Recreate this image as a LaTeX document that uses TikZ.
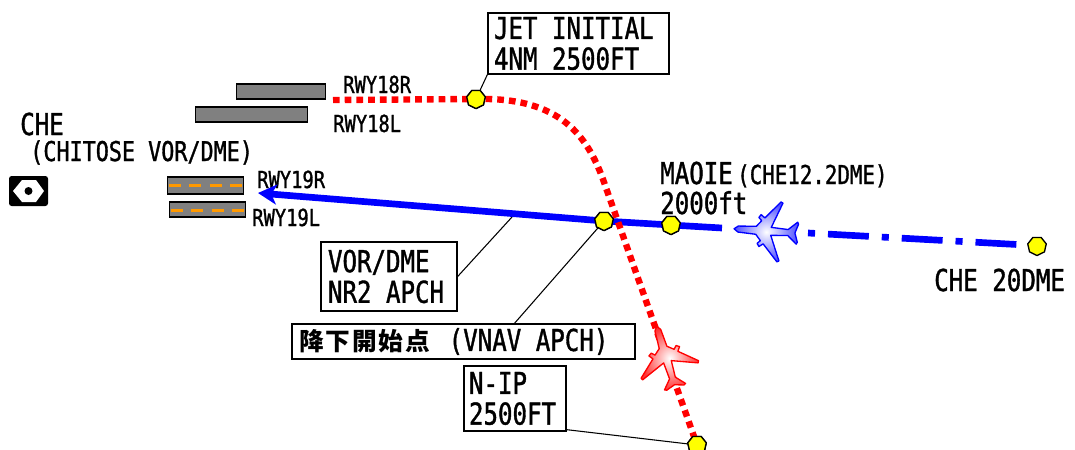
\documentclass[tikz,border=0pt]{standalone}
\usepackage{fontspec}
\usepackage{xcolor}
\setmainfont{DejaVu Sans Mono}[FakeStretch=0.8,FakeBold=1.2]
\newfontfamily\cjk{Noto Sans CJK JP}[LetterSpace=8]
\usepackage{tikz}
\usetikzlibrary{arrows.meta, positioning, calc, shapes.geometric}
\definecolor{apchblue}{RGB}{0, 0, 255}
\definecolor{jetred}{RGB}{255, 0, 0}
\definecolor{rwygray}{RGB}{128, 128, 128}
\definecolor{rwyorange}{RGB}{255, 153, 0}
\definecolor{fixyellow}{RGB}{255, 255, 0}
\def\px{0.75pt}
\newcommand{\bigfont}{\fontsize{22.6pt}{23pt}\selectfont}
\newcommand{\midfont}{\fontsize{20.4pt}{20pt}\selectfont}
\newcommand{\rwyfont}{\fontsize{17.6pt}{18pt}\selectfont}
\tikzset{
    labelbox/.style={draw, line width=1pt, fill=white, inner sep=0pt, align=flush left, font=\bigfont},
    freelabel/.style={anchor=base west, inner sep=0pt, font=\bigfont},
    sublabel/.style={anchor=base west, inner sep=0pt, font=\midfont},
    rwylabel/.style={anchor=base west, inner sep=0pt, font=\rwyfont},
    runway/.style={draw, line width=1.2pt, fill=rwygray, anchor=north west, inner sep=0pt},
    centerline/.style={rwyorange, line width=2pt, dash pattern=on 9pt off 6.4pt},
    fix/.style={regular polygon, regular polygon sides=7, shape border rotate=180, draw, line width=1pt, line join=round, fill=fixyellow, inner sep=0pt, minimum size=19*\px},
    leader/.style={line width=0.8pt},
    jetpath/.style={jetred, line width=4.8pt, dash pattern=on 5pt off 3.8pt},
    apchpath/.style={apchblue, line width=5pt},
    plane/.pic={
        \shadedraw[pic actions, line width=1pt, line join=round]
            (-32,0) -- (-28,-3) -- (-10,-4) -- (-5,-10) -- (-8,-13) -- (-6,-16) -- (-2,-13)
            -- (13,-30) -- (15,-29) -- (5,-4) -- (22,-3) -- (31,-11) -- (32,-9) -- (29,0)
            -- (32,9) -- (31,11) -- (22,3) -- (5,4) -- (15,29) -- (13,30)
            -- (-2,13) -- (-6,16) -- (-8,13) -- (-5,10) -- (-10,4) -- (-28,3) -- cycle;
    }
}

\begin{document}
\begin{tikzpicture}[x=0.75pt, y=-0.75pt]
    \useasboundingbox (0,0) rectangle (1075,450);
    % runways
    \node[runway, minimum width=89*\px, minimum height=15*\px] (rwy18R) at (235.5,83) {};
    \node[runway, minimum width=112*\px, minimum height=15*\px] (rwy18L) at (194.5,106) {};
    \node[runway, minimum width=76*\px, minimum height=17*\px] (rwy19R) at (166.5,176) {};
    \node[runway, minimum width=76*\px, minimum height=15*\px] (rwy19L) at (168.5,201) {};
    \draw[centerline] ($(rwy19R.west)+(2,0)$) -- ($(rwy19R.east)+(-2,0)$);
    \draw[centerline] ($(rwy19L.west)+(2,1)$) -- ($(rwy19L.east)+(-2,1)$);
    \node[rwylabel] (lab18R) at (343,93) {RWY18R};
    \node[rwylabel] (lab18L) at (333,132) {RWY18L};
    \node[rwylabel] (lab19R) at (257,188) {RWY19R};
    \node[rwylabel] (lab19L) at (252,226) {RWY19L};
    % VOR symbol
    \node[fill=black, rounded corners=2pt, minimum width=39*\px, minimum height=30*\px, inner sep=0pt] (vor) at (28.5,191) {};
    \fill[white] (13,191) -- (22,180) -- (36,180) -- (44,191) -- (36,202) -- (22,202) -- cycle;
    \fill[black] (vor.center) circle (4);
    \node[freelabel] (che) at (20,135) {CHE};
    \node[sublabel] (chitose) at (30,161) {(CHITOSE VOR/DME)};
    % fixes
    \coordinate (jetstart) at (333,100);
    \coordinate (arrowend) at (258,193);
    \coordinate (gapstart) at (722,228);
    \coordinate (dashstart) at (808,233);
    \coordinate (dashend) at (1017,244.5);
    \coordinate (vorfoot) at (512,217);
    \node[fix] (jetinit) at (476,99) {};
    \node[fix] (vnav) at (604,221) {};
    \node[fix] (maoie) at (671,225) {};
    \node[fix] (che20) at (1037,246) {};
    \node[fix] (nip) at (697,445) {};
    % approach paths
    \draw[apchpath, -{Stealth[length=14pt, width=15pt, inset=4pt]}] (gapstart) -- (maoie.center) -- (vnav.center) -- (arrowend);
    \draw[apchpath, dash pattern=on 5.3pt off 9.7pt on 30.7pt off 9.7pt] (dashstart) -- (dashend);
    \draw[jetpath] (jetstart) -- (jetinit.center) .. controls (560,97) and (588,135) .. (605,185) -- (nip.center);
    % label boxes
    \node[labelbox, minimum width=181*\px, minimum height=61*\px, text width=169*\px] (jetbox) at (578.5,43.5) {JET INITIAL\\4NM 2500FT};
    \node[labelbox, minimum width=136*\px, minimum height=69*\px, text width=122*\px] (vorbox) at (389,276.5) {VOR/DME\\NR2 APCH};
    \node[labelbox, minimum width=343*\px, minimum height=35*\px, text width=329*\px] (vnavbox) at (463.5,341.5) {{\cjk\bfseries\fontsize{18.5pt}{20pt}\selectfont 降下開始点}\hspace{3pt} (VNAV APCH)};
    \node[labelbox, minimum width=102*\px, minimum height=65*\px, text width=92*\px] (nipbox) at (515,398.5) {N-IP\\2500FT};
    \draw[leader] (jetbox.south west) -- (jetinit);
    \draw[leader] (vorbox.east) -- (vorfoot);
    \draw[leader] ($(vnavbox.north)+(51,0)$) -- (vnav);
    \draw[leader] ($(nipbox.south east)+(0,-2)$) -- (nip);
    \foreach \p in {jetinit,vnav,maoie,nip}
        \node[fix] at (\p) {};
    % free labels
    \node[freelabel] (maoielab) at (660,184) {MAOIE};
    \node[sublabel, font=\fontsize{19.5pt}{20pt}\selectfont] (maoiesub) at (737,184) {(CHE12.2DME)};
    \node[freelabel] (altlab) at (660,214) {2000ft};
    \node[freelabel] (che20lab) at (934,291) {CHE 20DME};
    % aircraft
    \pic[draw=apchblue, inner color=white, outer color=apchblue!70, rotate=-4] (bluejet) at (766,231) {plane};
    \pic[draw=jetred, inner color=white, outer color=jetred!80, rotate=-73] (redjet) at (666,357) {plane};
\end{tikzpicture}
\end{document}
